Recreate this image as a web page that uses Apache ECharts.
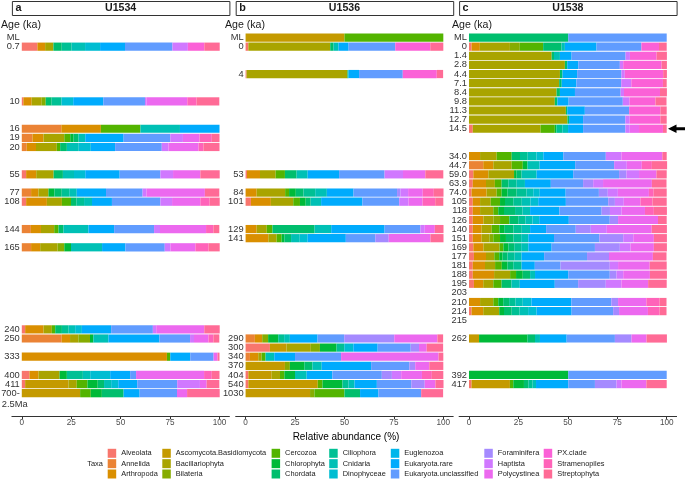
<!DOCTYPE html>
<html><head><meta charset="utf-8">
<script src="https://cdn.jsdelivr.net/npm/echarts@6/dist/echarts.min.js"></script>
<style>html,body{margin:0;padding:0;background:#fff}#c{width:685px;height:479px}</style>
</head><body><div id="c"></div>
<script>
const TAXA = ['Alveolata','Annelida','Arthropoda','Ascomycota.Basidiomycota','Bacillariophyta','Bilateria','Cercozoa','Chlorophyta','Chordata','Ciliophora','Cnidaria','Dinophyceae','Euglenozoa','Eukaryota.rare','Eukaryota.unclassified','Foraminifera','Haptista','Polycystinea','PX.clade','Stramenopiles','Streptophyta'];
const X_TICKS = [0, 25, 50, 75, 100];
const PANEL_LETTERS = ['a', 'b', 'c'];
const SITES = ['U1534', 'U1536', 'U1538'];

// y tick labels (blank entries are empty rows)
const U1534_ticks = ['ML','0.7','','','','','','10','','','16','19','20','','','55','','77','108','','','144','','165','','','','','','','','','240','250','','333','','400','411','700-','2.5Ma',''];
const U1536_ticks = ['ML','0','','','4','','','','','','','','','','','53','','84','101','','','129','141','','','','','','','','','','','290','300','340','370','404','540','1030','',''];
const U1538_ticks = ['ML','0','1.4','2.8','4.4','7.1','8.4','9.8','11.3','12.7','14.5','','','34.0','44.7','59.0','63.9','74.0','105','118','126','140','151','169','177','181','188','195','203','210','214','215','','262','','','','392','417','','',''];

const U1534_samples = ['0.7','10','16','19','20','55','77','108','144','165','240','250','333','400','411','700-'];
const U1534_values = [
 [7.9,0,3.9,0,4.2,0,0,0,4.2,5,6.8,7.6,0,12.6,24,0,7.8,0,8.3,0,7.8],
 [0.8,0,4.2,0,5.1,2,0,0,3,5,0,5.9,0,15.2,21.1,0,0.8,20.6,0,4.7,11.5],
 [0,20,20,0,0,0,20,0,0,0,20,0,0,20,0,0,0,0,0,0,0],
 [0,5.4,5.6,0,10.5,0,3,1.7,2.5,0,3.4,0,0,19.4,23.6,0,6.4,8.4,0,6.2,3.9],
 [0,2.5,4.7,0,10.5,0,1.7,0,3.4,0,6,6.1,0,12.3,23.6,0,3.4,15.2,0,2.5,8.1],
 [2.2,0,5.1,0,8.8,0,0,0,4.7,0,5.6,5.7,0,17.4,20.6,0,6.4,13.8,0,0,9.8],
 [0,4.7,3.7,0,5.1,0,0,3,3.7,3.8,3.8,0,0,14.8,18.5,0,2,29.5,0,0,7.3],
 [2.2,0,10.5,0,7.6,0,4.6,0,2.7,3.9,4,0,0,10.1,24.5,0,5.9,14.3,0,4.7,5.1],
 [0,4.6,5.1,0,6.7,0,2.2,0,2.5,0,12.6,0,0,13,20.2,0,3,23.3,0,3.7,3],
 [0,4.7,4.6,0,8.8,3.4,0,3.4,0,0,15.7,0,0,11.8,19.9,0,2.9,12.6,0,6.7,5.6],
 [1.7,0,9.3,0,4.2,0,1.7,0,3.4,3.4,3.3,3.4,0,14.8,21.1,0,1.7,24.3,0,0,7.8],
 [0,20.2,4.2,0,4.2,5.9,0,1.7,0,0,7.6,0,0,25.8,15.5,0,2,7.3,0,2.5,3],
 [0,0,73.4,0,0,0,1.7,0,0,0,0,0,0,10.1,11.8,0,0,2,0,0,1],
 [3.9,0,4.6,0,10.6,0,0,3.7,0,8.1,3.7,10.1,0,10.1,3,0,0,34.4,0,3.9,3.9],
 [1.7,0,0,21.9,4.2,0,5.4,5.2,3.2,0,3.6,3.6,0,9.6,20.2,0,11.5,3.4,0,0,6.4],
 [0,0,0,29.5,0,0,5.4,5.6,11,0,0,0,0,8.1,18.9,0,0,5.1,0,0,16.5]
];

const U1536_samples = ['ML','0','4','53','84','101','129','141','290','300','340','370','404','540','1030'];
const U1536_values = [
 [0,0,0,50,0,0,50,0,0,0,0,0,0,0,0,0,0,0,0,0,0],
 [1.4,0,0,0,41.4,0,0,0,1.7,0,2.5,0,0,5.1,23.6,0,0,0,17.7,0,6.6],
 [0.5,0,0,0,51,0,0,0,0.5,0,0,0,0,5.4,22.1,0,0,0,17.2,0,3.2],
 [0.7,0,6.6,0,7.9,0,4.7,0,5.9,0,5.6,0,0,15.9,23,0,9.3,11.3,0,0,9.1],
 [0,0,5.6,0,14.4,0,2,3.4,3.9,5.9,5.9,0,0,13.5,22,1.7,3.9,7.4,0,5.6,4.9],
 [2.7,0,10.1,0,11.3,0,3.4,2.9,2.5,0,5.3,0,0,20.9,18.6,0,4.7,7.1,0,6.4,4.1],
 [0,0,5.6,0,5.1,0,2.9,0,21.3,0,8.4,0,0,27,18.1,0,2.2,5.1,0,0,4.4],
 [0,0,11.5,0,4.2,0,2.5,1.4,3.4,0,4.4,4,0,19.3,14.9,6.8,0,21.1,0,0,6.6],
 [0,4.7,3.7,0,0,3,0,5.1,0,3,2.9,0,0,14,13.5,25.3,0,21.8,0,0,2.9],
 [12.3,0,0,8.4,12.3,4.6,0,8.4,0,3.9,0,4.6,0,12.3,16.7,4.2,0,3.9,0,0,8.3],
 [0,2.2,4.2,0,1.7,0,2,0,0,0,4.4,0,0,10.5,23.3,0,0,49.3,0,0,2.4],
 [0,0,0,19.9,0,2.5,0,7.3,4.1,0,4.7,0,0,25,19.3,3,0,7.1,0,0,7.1],
 [1.4,0,0,11.8,4.2,0,2.2,5.4,0,0,5.9,0,0,13,25,5.1,4.7,10.5,0,5,5.8],
 [1.4,0,0,35.1,0,0,2.4,10.1,0,3,3.1,0,0,11.3,17.4,6.8,0,5.4,0,0,4.1],
 [0,0,0,32.6,0,2.2,15.2,0,7.9,0,0,0,0,9.3,21.6,0,0,0,0,0,11.1]
];

const U1538_samples = ['ML','0','1.4','2.8','4.4','7.1','8.4','9.8','11.3','12.7','14.5','34.0','44.7','59.0','63.9','74.0','105','118','126','140','151','169','177','181','188','195','210','214','262','392','417'];
const U1538_values = [
 [0,0,0,0,0,0,0,0,50.2,0,0,0,0,0,49.8,0,0,0,0,0,0],
 [1.3,0,4.2,0,15.2,5,11.8,0,9.3,0,1.7,0,0,16,22.7,0,0,0,8.9,0,3.9],
 [0,0,0,0,41.8,0,0,0,1.2,0,3,0,0,5.9,27.3,0,2.2,0,13.5,0,5.2],
 [0,0,0,0,48.5,0,0,0,1.2,0,0,0,0,5.6,21,0,1.7,0,19.4,0,2.7],
 [0,0,0,0,46,0,0,0,1.3,0,0,0,0,7.4,22.4,0,1.7,0,19.4,0,1.9],
 [0,0,0,0,45.6,0,0,0,1.3,0,0,0,0,7.4,22.7,0,5.1,0,16,0,1.9],
 [0,0,0,0,44.3,0,0,0,1.7,0,0,0,0,7.6,23.1,0,1.7,0,18.2,0,3.5],
 [0,0,0,0,43.4,0,0,0,1.3,0,0,0,0,5.7,27.4,0,3.4,0,13.1,0,5.6],
 [0,0,0,0,49,0,0,0,0.7,0,0,0,0,8.9,22.4,0,0,0,15.8,0,3.2],
 [0,0,0,0,49.8,0,0,0,0.8,0,0,0,0,7.1,21.4,0,2.2,0,15.5,0,3.2],
 [1.9,0,0,0,34.3,0,7.2,0.8,0,3,2.9,0,0,7.6,21.4,0,2.2,4.7,12.1,0,1.9],
 [0,0,5.6,0,8.4,0,7.6,0,4.2,3.9,4.4,3.5,0,10.1,21.5,0,7.9,20.7,0,0,2.2],
 [0,7.2,5.1,0,9.3,0,5.6,2.4,0,0,6.1,0,0,18,19.7,0,6.4,7.6,0,5.1,7.7],
 [2.2,0,7.6,0,13,0,0,1.3,2.5,0,7.6,0,0,18.5,23.2,3.7,6.4,8.8,0,0,5.2],
 [1.9,0,6.7,0,4.5,0,3.4,0,3.4,4.2,4.2,0,0,13.1,16.3,5.1,5,24.7,0,0,7.4],
 [1.3,0,7.6,0,5.1,0,2.5,2.9,4.7,5,3.4,3.3,0,13.1,16.8,4.5,5.1,15.7,0,2.4,6.6],
 [1.9,0,3.7,0,5.4,0,4.7,2.5,4.2,4.3,4.4,3.9,0,14,21.4,3.4,4.5,8.4,0,6.1,7.2],
 [1.9,0,3.7,0,6.7,0,2.5,2.9,5.6,3.8,3.8,0,0,14.8,21.4,4.2,5.9,11.8,0,4.5,6.6],
 [1.9,0,5.4,0,5.1,3.3,4.7,0,4.5,3.6,3.6,3.4,0,15,20.7,4.2,0,20.2,0,0,4.4],
 [1.9,0,4.5,0,5.1,0,3.9,2.4,4.7,4.2,4.2,0,0,8.1,15,7.6,8.1,22.7,0,0,7.7],
 [1.9,0,4.5,0,3.9,2,3.4,3,3.8,3.9,3.6,0,0,13,22.9,12.1,5.1,10.4,0,0,6.6],
 [2.2,0,5.1,0,8.1,0,2,2.5,3,3.5,3.6,0,0,11.8,21.9,12.6,5.4,11.8,0,0,6.6],
 [2.5,0,6.1,0,4.2,0,2.5,1.7,2.5,3.6,3.5,0,0,11.4,21.7,11.1,0,22.2,0,0,6.9],
 [1.9,0,6.2,0,5.1,0,3.4,2.8,3,4.2,0,0,0,6.7,13,24.9,4.2,16,0,0,8.6],
 [1.9,0,10.8,0,8.1,0,3,3.4,3.7,0,2.5,0,0,16.8,21,3.4,3.4,13.5,0,0,8.6],
 [2.5,0,4.7,0,5.1,0,4.2,0,5,0,4.2,0,0,17.7,11.8,14,7.9,13.5,0,0,9.4],
 [0,0,5.6,0,6.7,0,2.5,2.5,3,3.2,3.7,4.4,0,20.2,20.2,3.4,0,14.3,0,6.7,3.5],
 [1.3,0,5.9,0,8.1,0,0,2.4,3.9,4,4.3,4.3,0,17.7,21,3,0,14.6,0,5.9,3.5],
 [0,0,0,5.1,0,0,0,24.4,3.9,0,2.5,0,0,13.5,24.4,8.4,0,7.6,0,0,10.3],
 [0,0,0,0,0,0,0,50.2,0,0,0,0,0,0,49.8,0,0,0,0,0,0],
 [1.3,0,0,19.4,0,0,1.7,5.4,2.2,2.2,1.7,0,0,16.3,13.5,10.9,2.5,12.6,0,0,10.3]
];

// ggplot2-style hue palette (HCL, c=100, l=65)
function hcl2hex(h, c, l) {
  const Xn = 95.047, Yn = 100, Zn = 108.883;
  const d = Xn + 15 * Yn + 3 * Zn, un = 4 * Xn / d, vn = 9 * Yn / d;
  const hr = h * Math.PI / 180, u = c * Math.cos(hr), v = c * Math.sin(hr);
  const Y = Yn * Math.pow((l + 16) / 116, 3);
  const up = u / (13 * l) + un, vp = v / (13 * l) + vn;
  const X = Y * 9 * up / (4 * vp), Z = Y * (12 - 3 * up - 20 * vp) / (4 * vp);
  const x = X / 100, y = Y / 100, z = Z / 100;
  const lin = [3.240479 * x - 1.537150 * y - 0.498535 * z,
               -0.969256 * x + 1.875992 * y + 0.041556 * z,
               0.055648 * x - 0.204043 * y + 1.057311 * z];
  return '#' + lin.map(t => {
    let g = t <= 0.0031308 ? 12.92 * t : 1.055 * Math.pow(t, 1 / 2.4) - 0.055;
    g = Math.max(0, Math.min(1, g));
    return Math.round(g * 255).toString(16).padStart(2, '0');
  }).join('');
}
const PALETTE = TAXA.map((t, i) => hcl2hex(15 + 360 * i / TAXA.length, 100, 65));

const FONT = 'Liberation Sans, Arial, sans-serif';
const panels = [
  {ticks: U1534_ticks, samples: U1534_samples, values: U1534_values, left: 11.9},
  {ticks: U1536_ticks, samples: U1536_samples, values: U1536_values, left: 235.7},
  {ticks: U1538_ticks, samples: U1538_samples, values: U1538_values, left: 459.1}
];
const PW = 217.5, GTOP = 33, GH = 383;
const ZERO_OFF = PW * 5 / 110; // pixel distance from panel edge to x = 0

const grid = [], xAxis = [], yAxis = [], series = [], graphic = [];
panels.forEach((p, k) => {
  grid.push({left: p.left, top: GTOP, width: PW, height: GH, containLabel: false, outerBoundsMode: 'none'});
  xAxis.push({
    type: 'value', gridIndex: k, min: -5, max: 105,
    axisLine: {show: true, lineStyle: {color: '#333', width: 1}},
    axisTick: {show: true, length: 3, lineStyle: {color: '#333'}, customValues: X_TICKS},
    axisLabel: {color: '#4d4d4d', fontSize: 8.2, fontFamily: FONT, margin: 3, customValues: X_TICKS},
    splitLine: {show: false}
  });
  yAxis.push({
    type: 'category', gridIndex: k, inverse: true, data: p.ticks,
    offset: -ZERO_OFF,
    axisLine: {show: false, onZero: false},
    axisTick: {show: false},
    axisLabel: {
      interval: 0, color: '#333', fontSize: 9.3, fontFamily: FONT, margin: 2,
      // labels wider than the label column (e.g. "2.5Ma") start flush with the column, as in the source
      formatter: v => (v.length > 4 ? '{w|' + v + '}' : v),
      rich: {w: {width: 18, align: 'left', fontSize: 9.3, color: '#333', fontFamily: FONT, padding: [5, 0, 0, 0]}}
    }
  });
  TAXA.forEach((name, t) => {
    const data = p.ticks.map(() => null);
    p.samples.forEach((s, j) => {
      const idx = p.ticks.indexOf(s);
      const v = p.values[j][t];
      data[idx] = v > 0 ? v : null;
    });
    series.push({
      type: 'bar', name: name, xAxisIndex: k, yAxisIndex: k, stack: 'st' + k,
      data: data, barCategoryGap: '10%', itemStyle: {color: PALETTE[t]},
      emphasis: {disabled: true}, animation: false
    });
  });
  // strip header
  graphic.push({type: 'rect', shape: {x: p.left + 0.5, y: 1.5, width: PW, height: 14}, style: {fill: '#fff', stroke: '#333', lineWidth: 1}});
  graphic.push({type: 'text', x: p.left + 3.5, y: 8.5, style: {text: PANEL_LETTERS[k], font: 'bold 10.8px ' + FONT, fill: '#1a1a1a', textVerticalAlign: 'middle'}});
  graphic.push({type: 'text', x: p.left + PW / 2, y: 8.5, style: {text: SITES[k], font: 'bold 10.6px ' + FONT, fill: '#1a1a1a', textAlign: 'center', textVerticalAlign: 'middle'}});
});
// y-axis titles
[1, 225, 452].forEach(x => graphic.push({type: 'text', x: x, y: 25, style: {text: 'Age (ka)', font: '10.6px ' + FONT, fill: '#1a1a1a', textVerticalAlign: 'middle'}}));
graphic.push({type: 'text', x: 346, y: 437.5, style: {text: 'Relative abundance (%)', font: '10px ' + FONT, fill: '#000', textAlign: 'center', textVerticalAlign: 'middle'}});
graphic.push({type: 'text', x: 95, y: 463.7, style: {text: 'Taxa', font: '7.4px ' + FONT, fill: '#1a1a1a', textAlign: 'center', textVerticalAlign: 'middle'}});

const LEG_X = [107.7, 162.3, 271.6, 329.2, 390.8, 484.3, 543.7];
const legend = LEG_X.map((x, i) => ({
  orient: 'vertical', left: x, top: 448.8, padding: 0,
  data: TAXA.slice(i * 3, i * 3 + 3), icon: 'rect',
  itemWidth: 8.5, itemHeight: 9, itemGap: 1.35, selectedMode: false,
  textStyle: {fontSize: 7.4, color: '#1a1a1a', fontFamily: FONT}
}));

const chart = echarts.init(document.getElementById('c'), null, {renderer: 'canvas'});
chart.setOption({animation: false, grid, xAxis, yAxis, series, legend, graphic});

// arrow marking the 14.5 ka sample in U1538
const ay = chart.convertToPixel({xAxisIndex: 2, yAxisIndex: 2}, [0, U1538_ticks.indexOf('14.5')])[1];
const ax = 668;
graphic.push({type: 'polygon', shape: {points: [[ax, ay], [ax + 8.5, ay - 4.3], [ax + 8.5, ay - 1.4], [ax + 17, ay - 1.4], [ax + 17, ay + 1.4], [ax + 8.5, ay + 1.4], [ax + 8.5, ay + 4.3]]}, style: {fill: '#000'}});
chart.setOption({graphic: graphic});
</script></body></html>
